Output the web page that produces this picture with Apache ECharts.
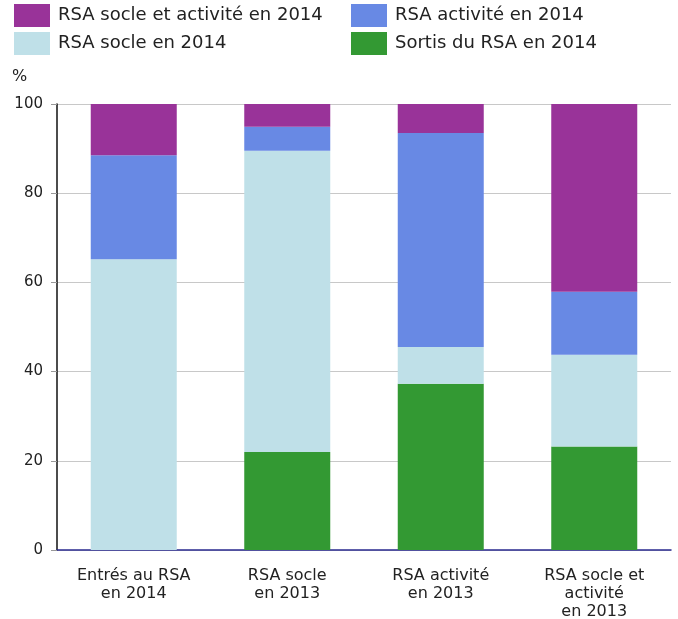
<!DOCTYPE html>
<html><head><meta charset="utf-8">
<script src="https://cdn.jsdelivr.net/npm/echarts@6/dist/echarts.min.js"></script>
<style>html,body{margin:0;padding:0;background:#fff}#c{width:678px;height:619px}</style>
</head><body><div id="c"></div>
<script>
const categories = ["Entrés au RSA\nen 2014", "RSA socle\nen 2013", "RSA activité\nen 2013", "RSA socle et\nactivité\nen 2013"];
const sortis = [0, 22.0, 37.3, 23.2];
const socle = [65.2, 67.5, 8.2, 20.6];
const activite = [23.3, 5.4, 48.0, 14.1];
const socleActivite = [11.5, 5.1, 6.5, 42.1];
const yTicks = [0, 20, 40, 60, 80, 100];

const names = ["Sortis du RSA en 2014", "RSA socle en 2014", "RSA activité en 2014", "RSA socle et activité en 2014"];
const colors = ["#339933", "#bfe0e8", "#6889e4", "#993399"];
const values = [sortis, socle, activite, socleActivite];
const font = "DejaVu Sans";

const legendPos = [
  {name: names[3], left: 14, top: 4},
  {name: names[2], left: 351, top: 4},
  {name: names[1], left: 14, top: 32},
  {name: names[0], left: 351, top: 32}
];

const chart = echarts.init(document.getElementById('c'), null, {renderer: 'canvas'});
chart.setOption({
  animation: false,
  legend: legendPos.map(p => ({
    data: [p.name], left: p.left, top: p.top, itemWidth: 36, itemHeight: 23,
    icon: 'rect', selectedMode: false, padding: 0,
    textStyle: {fontFamily: font, fontSize: 18, color: '#222', padding: [0, 0, 0, 3]}
  })),
  graphic: [{
    type: 'text', left: 12, top: 69,
    style: {text: '%', font: '16px "DejaVu Sans"', fill: '#222'}
  }],
  grid: {left: 57, right: 7, top: 104, bottom: 69, containLabel: false, outerBoundsMode: 'none'},
  xAxis: {
    type: 'category', data: categories,
    axisLine: {lineStyle: {color: '#2a2a90', width: 1.5}},
    axisTick: {show: false},
    axisLabel: {fontFamily: font, fontSize: 16, color: '#222', margin: 17, lineHeight: 18, interval: 0}
  },
  yAxis: {
    type: 'value', min: 0, max: 100, interval: 20,
    axisLine: {show: true, lineStyle: {color: '#111', width: 1.5}},
    axisTick: {show: true, length: 6, lineStyle: {color: '#999'}},
    splitLine: {lineStyle: {color: '#c8c8c8', width: 1.2}},
    axisLabel: {fontFamily: font, fontSize: 15, color: '#222', margin: 14,
      formatter: v => yTicks.includes(v) ? String(v) : ''}
  },
  series: values.map((d, i) => ({
    name: names[i], type: 'bar', stack: 'total', data: d,
    barWidth: 86, itemStyle: {color: colors[i]}
  }))
});
</script></body></html>
